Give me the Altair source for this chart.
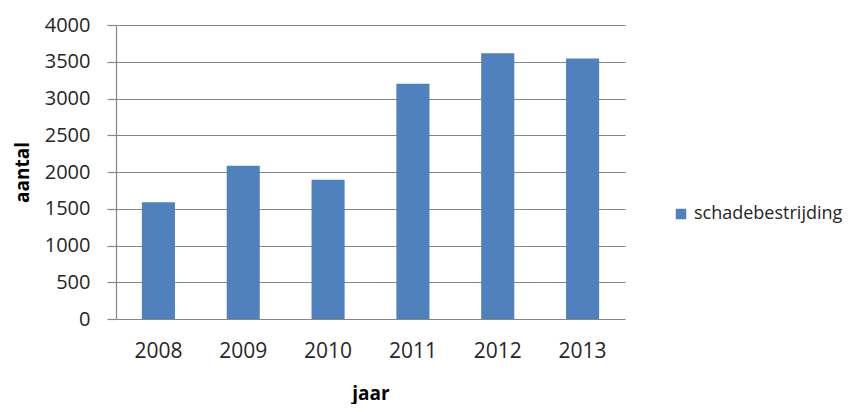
import altair as alt
import pandas as pd

years = ["2008", "2009", "2010", "2011", "2012", "2013"]
values = [1590, 2085, 1895, 3200, 3615, 3545]
series = ["schadebestrijding"] * len(years)

df = pd.DataFrame({"jaar": years, "aantal": values, "reeks": series})

FONT = "Open Sans"

chart = alt.Chart(df).mark_bar(color="#4F81BD").encode(
    x=alt.X("jaar:N", sort=years, title="jaar",
            scale=alt.Scale(paddingInner=0.61, paddingOuter=0.305),
            axis=alt.Axis(labelAngle=0, ticks=False, domain=False, grid=False,
                          labelFontSize=21, labelFont=FONT, labelColor="#262626",
                          labelPadding=21,
                          titleFontSize=19, titleFont=FONT, titleFontWeight="bold",
                          titleColor="#000000", titlePadding=23)),
    y=alt.Y("aantal:Q", title="aantal",
            scale=alt.Scale(domain=[0, 4000]),
            axis=alt.Axis(values=[0, 500, 1000, 1500, 2000, 2500, 3000, 3500, 4000],
                          format="d",
                          grid=True, gridColor="#868686", gridWidth=1.2,
                          domain=True, domainColor="#868686", domainWidth=1.2,
                          ticks=True, tickSize=9, tickColor="#868686", tickWidth=1.2,
                          labelFontSize=20, labelFont=FONT, labelColor="#262626",
                          labelPadding=17,
                          titleFontSize=19, titleFont=FONT, titleFontWeight="bold",
                          titleColor="#000000", titlePadding=12)),
    color=alt.Color("reeks:N", scale=alt.Scale(range=["#4F81BD"]),
                    legend=alt.Legend(title=None, orient="none", legendX=556, legendY=180,
                                      symbolType="square", symbolSize=110,
                                      labelFontSize=18, labelFont=FONT,
                                      labelColor="#262626")),
).properties(
    width=509, height=294,
    padding={"left": 108, "top": 17, "right": 224, "bottom": 85},
    autosize=alt.AutoSizeParams(type="none"),
).configure_view(stroke=None)

chart.save("out.html", embed_options={"renderer": "svg", "actions": False})
